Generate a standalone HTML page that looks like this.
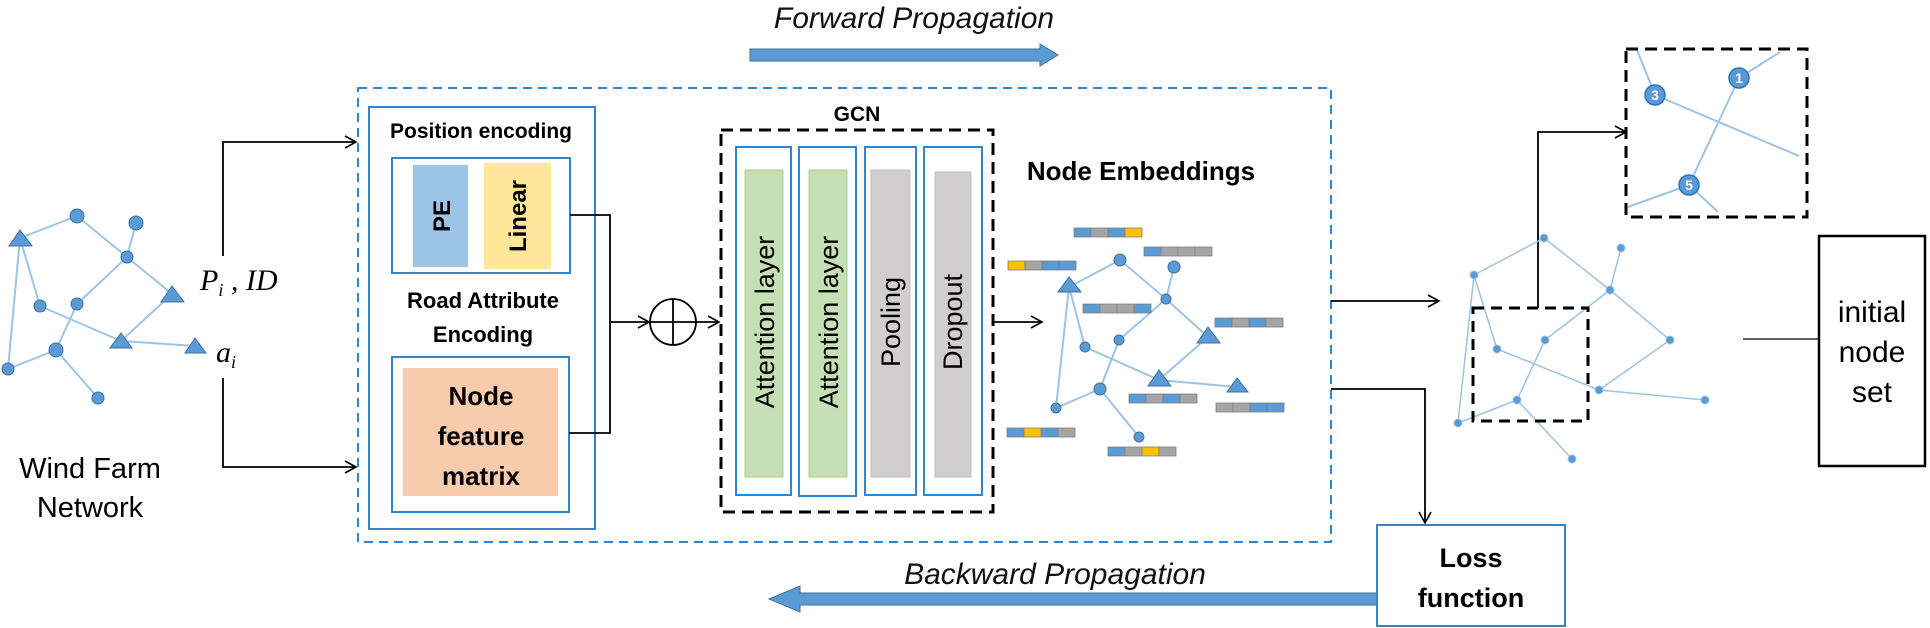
<!DOCTYPE html>
<html><head><meta charset="utf-8"><style>
html,body{margin:0;padding:0;background:#fff;}
svg{display:block;}
</style></head><body>
<svg width="1930" height="628" viewBox="0 0 1930 628" xmlns="http://www.w3.org/2000/svg" font-family="Liberation Sans, sans-serif">
<defs>
<marker id="ah" markerWidth="14" markerHeight="14" refX="12" refY="7" orient="auto" markerUnits="userSpaceOnUse">
<path d="M1,1 L12,7 L1,13" fill="none" stroke="#000" stroke-width="1.6"/>
</marker>
</defs>

<!-- Forward / backward -->
<text x="914" y="28" font-size="30" font-style="italic" text-anchor="middle" fill="#111">Forward Propagation</text>
<path d="M750,49 L1040,49 L1040,44 L1058,55 L1040,66 L1040,61 L750,61 Z" fill="#5b9bd5" stroke="#41719c" stroke-width="1"/>
<text x="1055" y="584" font-size="30" font-style="italic" text-anchor="middle" fill="#111">Backward Propagation</text>
<path d="M1377,593 L800,593 L800,586 L769,599 L800,612 L800,605 L1377,605 Z" fill="#5b9bd5" stroke="#41719c" stroke-width="1"/>

<!-- blue dashed box -->
<rect x="358" y="88" width="973" height="454" fill="none" stroke="#2e86d1" stroke-width="2" stroke-dasharray="9,6"/>

<!-- left network -->
<g stroke="#9dc3e6" stroke-width="2">
<line x1="20" y1="238" x2="77" y2="216"/><line x1="77" y1="216" x2="127" y2="257"/><line x1="136" y1="223" x2="127" y2="257"/>
<line x1="127" y1="257" x2="172" y2="294"/><line x1="127" y1="257" x2="77" y2="304"/><line x1="20" y1="238" x2="40" y2="306"/>
<line x1="20" y1="238" x2="8" y2="369"/><line x1="40" y1="306" x2="121" y2="341"/><line x1="172" y1="294" x2="121" y2="341"/>
<line x1="121" y1="341" x2="195" y2="346"/><line x1="77" y1="304" x2="56" y2="350"/><line x1="56" y1="350" x2="8" y2="369"/>
<line x1="56" y1="350" x2="98" y2="398"/>
</g>
<g fill="#5b9bd5" stroke="#41719c" stroke-width="1">
<circle cx="77" cy="216" r="7"/><circle cx="136" cy="223" r="7"/><circle cx="127" cy="257" r="6"/><circle cx="77" cy="304" r="6"/>
<circle cx="40" cy="306" r="6"/><circle cx="56" cy="350" r="7"/><circle cx="8" cy="369" r="6"/><circle cx="98" cy="398" r="6"/>
<polygon points="20,230 9,246 32,246"/><polygon points="172,286 161,302 184,302"/><polygon points="121,333 110,348 132,348"/><polygon points="195,338 185,353 206,353"/>
</g>
<text x="200" y="290" font-size="30" font-style="italic" font-family="Liberation Serif, serif">P<tspan font-size="18" dy="6">i</tspan><tspan dy="-6"> , ID</tspan></text>
<text x="216" y="362" font-size="30" font-style="italic" font-family="Liberation Serif, serif">a<tspan font-size="18" dy="6">i</tspan></text>
<text x="90" y="478" font-size="29" text-anchor="middle">Wind Farm</text>
<text x="90" y="517" font-size="29" text-anchor="middle">Network</text>
<g stroke="#000" stroke-width="1.8" fill="none">
<polyline points="223,256 223,142 356,142" marker-end="url(#ah)"/>
<polyline points="223,378 223,467 356,467" marker-end="url(#ah)"/>
</g>

<!-- encoding block -->
<rect x="369" y="107" width="226" height="422" fill="none" stroke="#2e86d1" stroke-width="2"/>
<text x="481" y="138" font-size="21" font-weight="bold" text-anchor="middle">Position encoding</text>
<rect x="392" y="158" width="178" height="115" fill="none" stroke="#2e86d1" stroke-width="2"/>
<rect x="413" y="165" width="55" height="102" fill="#9dc3e6"/>
<rect x="484" y="163" width="67" height="106" fill="#ffe699"/>
<text transform="translate(450,216) rotate(-90)" font-size="24" font-weight="bold" text-anchor="middle">PE</text>
<text transform="translate(526,216) rotate(-90)" font-size="24" font-weight="bold" text-anchor="middle">Linear</text>
<text x="483" y="308" font-size="22" font-weight="bold" text-anchor="middle">Road Attribute</text>
<text x="483" y="342" font-size="22" font-weight="bold" text-anchor="middle">Encoding</text>
<rect x="392" y="357" width="177" height="155" fill="none" stroke="#2e86d1" stroke-width="2"/>
<rect x="403" y="368" width="155" height="128" fill="#f8cbad"/>
<text x="481" y="405" font-size="26" font-weight="bold" text-anchor="middle">Node</text>
<text x="481" y="445" font-size="26" font-weight="bold" text-anchor="middle">feature</text>
<text x="481" y="485" font-size="26" font-weight="bold" text-anchor="middle">matrix</text>

<g stroke="#000" stroke-width="1.8" fill="none">
<polyline points="570,215 610,215 610,433 569,433"/>
<line x1="610" y1="322" x2="649" y2="322" marker-end="url(#ah)"/>
<circle cx="673" cy="322" r="23"/>
<line x1="650" y1="322" x2="696" y2="322"/><line x1="673" y1="299" x2="673" y2="345"/>
<line x1="696" y1="322" x2="719" y2="322" marker-end="url(#ah)"/>
</g>

<!-- GCN -->
<text x="857" y="121" font-size="21" font-weight="bold" text-anchor="middle">GCN</text>
<rect x="721" y="130" width="272" height="382" fill="none" stroke="#000" stroke-width="3" stroke-dasharray="12,7"/>
<g fill="none" stroke="#2e86d1" stroke-width="2">
<rect x="736" y="147" width="55" height="348"/><rect x="799" y="147" width="57" height="349"/>
<rect x="865" y="147" width="51" height="348"/><rect x="924" y="147" width="58" height="348"/>
</g>
<rect x="745" y="170" width="38" height="307" fill="#c5e0b4" stroke="#a9d18e"/>
<rect x="809" y="170" width="38" height="307" fill="#c5e0b4" stroke="#a9d18e"/>
<rect x="871" y="170" width="39" height="307" fill="#d0cece" stroke="#bfbfbf"/>
<rect x="935" y="172" width="36" height="305" fill="#d0cece" stroke="#bfbfbf"/>
<g font-size="27" text-anchor="middle">
<text transform="translate(774,322) rotate(-90)">Attention layer</text>
<text transform="translate(838,322) rotate(-90)">Attention layer</text>
<text transform="translate(900,322) rotate(-90)">Pooling</text>
<text transform="translate(962,322) rotate(-90)">Dropout</text>
</g>
<line x1="993" y1="322" x2="1042" y2="322" stroke="#000" stroke-width="1.8" marker-end="url(#ah)"/>

<!-- Node embeddings -->
<text x="1141" y="180" font-size="26" font-weight="bold" text-anchor="middle">Node Embeddings</text>
<g stroke="#9dc3e6" stroke-width="2">
<line x1="1069" y1="287" x2="1120" y2="260"/><line x1="1120" y1="260" x2="1166" y2="299"/><line x1="1174" y1="267" x2="1166" y2="299"/>
<line x1="1166" y1="299" x2="1208" y2="337"/><line x1="1166" y1="299" x2="1119" y2="340"/><line x1="1069" y1="287" x2="1085" y2="347"/>
<line x1="1069" y1="287" x2="1056" y2="408"/><line x1="1085" y1="347" x2="1159" y2="380"/><line x1="1208" y1="337" x2="1159" y2="380"/>
<line x1="1159" y1="380" x2="1237" y2="387"/><line x1="1119" y1="340" x2="1100" y2="389"/><line x1="1100" y1="389" x2="1056" y2="408"/>
<line x1="1100" y1="389" x2="1139" y2="437"/>
</g>
<g fill="#5b9bd5" stroke="#41719c" stroke-width="1">
<circle cx="1120" cy="260" r="6"/><circle cx="1174" cy="267" r="6"/><circle cx="1166" cy="299" r="5"/><circle cx="1085" cy="347" r="5"/>
<circle cx="1119" cy="340" r="5"/><circle cx="1100" cy="389" r="6"/><circle cx="1056" cy="408" r="5"/><circle cx="1139" cy="437" r="5"/>
<polygon points="1069,277 1058,292 1081,292"/><polygon points="1208,327 1197,343 1220,343"/><polygon points="1159,370 1148,386 1171,386"/><polygon points="1237,378 1227,392 1248,392"/>
</g>
<g stroke="#7f7f7f" stroke-width="0.8">
<!-- bars: B blue, G gray, Y yellow -->
<g transform="translate(1074,228)"><rect width="17" height="9" fill="#5b9bd5"/><rect x="17" width="17" height="9" fill="#a5a5a5"/><rect x="34" width="17" height="9" fill="#5b9bd5"/><rect x="51" width="17" height="9" fill="#ffc000"/></g>
<g transform="translate(1144,247)"><rect width="17" height="9" fill="#5b9bd5"/><rect x="17" width="17" height="9" fill="#a5a5a5"/><rect x="34" width="17" height="9" fill="#a5a5a5"/><rect x="51" width="17" height="9" fill="#a5a5a5"/></g>
<g transform="translate(1008,261)"><rect width="17" height="9" fill="#ffc000"/><rect x="17" width="17" height="9" fill="#a5a5a5"/><rect x="34" width="17" height="9" fill="#5b9bd5"/><rect x="51" width="17" height="9" fill="#5b9bd5"/></g>
<g transform="translate(1083,304)"><rect width="17" height="9" fill="#5b9bd5"/><rect x="17" width="17" height="9" fill="#a5a5a5"/><rect x="34" width="17" height="9" fill="#a5a5a5"/><rect x="51" width="17" height="9" fill="#5b9bd5"/></g>
<g transform="translate(1215,318)"><rect width="17" height="9" fill="#5b9bd5"/><rect x="17" width="17" height="9" fill="#a5a5a5"/><rect x="34" width="17" height="9" fill="#5b9bd5"/><rect x="51" width="17" height="9" fill="#a5a5a5"/></g>
<g transform="translate(1129,394)"><rect width="17" height="9" fill="#5b9bd5"/><rect x="17" width="17" height="9" fill="#a5a5a5"/><rect x="34" width="17" height="9" fill="#5b9bd5"/><rect x="51" width="17" height="9" fill="#a5a5a5"/></g>
<g transform="translate(1216,403)"><rect width="17" height="9" fill="#a5a5a5"/><rect x="17" width="17" height="9" fill="#a5a5a5"/><rect x="34" width="17" height="9" fill="#5b9bd5"/><rect x="51" width="17" height="9" fill="#5b9bd5"/></g>
<g transform="translate(1007,428)"><rect width="17" height="9" fill="#5b9bd5"/><rect x="17" width="17" height="9" fill="#ffc000"/><rect x="34" width="17" height="9" fill="#5b9bd5"/><rect x="51" width="17" height="9" fill="#a5a5a5"/></g>
<g transform="translate(1108,447)"><rect width="17" height="9" fill="#5b9bd5"/><rect x="17" width="17" height="9" fill="#a5a5a5"/><rect x="34" width="17" height="9" fill="#ffc000"/><rect x="51" width="17" height="9" fill="#a5a5a5"/></g>
</g>

<!-- right connectors -->
<g stroke="#000" stroke-width="1.8" fill="none">
<line x1="1331" y1="301" x2="1439" y2="301" marker-end="url(#ah)"/>
<polyline points="1331,389 1425,389 1425,523" marker-end="url(#ah)"/>
<polyline points="1538,308 1538,132 1626,132" marker-end="url(#ah)"/>
<line x1="1743" y1="339" x2="1819" y2="339" stroke-width="1.3"/>
</g>

<!-- result graph -->
<g stroke="#9dc3e6" stroke-width="1.5">
<line x1="1544" y1="238" x2="1474" y2="275"/><line x1="1544" y1="238" x2="1610" y2="290"/><line x1="1621" y1="248" x2="1610" y2="290"/>
<line x1="1610" y1="290" x2="1545" y2="340"/><line x1="1610" y1="290" x2="1670" y2="340"/><line x1="1474" y1="275" x2="1497" y2="349"/>
<line x1="1474" y1="275" x2="1458" y2="423"/><line x1="1497" y1="349" x2="1599" y2="390"/><line x1="1545" y1="340" x2="1517" y2="400"/>
<line x1="1670" y1="340" x2="1599" y2="390"/><line x1="1599" y1="390" x2="1705" y2="400"/><line x1="1517" y1="400" x2="1458" y2="423"/>
<line x1="1517" y1="400" x2="1572" y2="459"/>
</g>
<g fill="#5b9bd5" stroke="#9dc3e6" stroke-width="1" font-size="6" text-anchor="middle">
<circle cx="1544" cy="238" r="4"/><circle cx="1621" cy="248" r="4"/><circle cx="1474" cy="275" r="4"/><circle cx="1610" cy="290" r="4"/>
<circle cx="1545" cy="340" r="4"/><circle cx="1497" cy="349" r="4"/><circle cx="1670" cy="340" r="4"/><circle cx="1599" cy="390" r="4"/>
<circle cx="1705" cy="400" r="4"/><circle cx="1517" cy="400" r="4"/><circle cx="1458" cy="423" r="4"/><circle cx="1572" cy="459" r="4"/>
</g>
<rect x="1473" y="308" width="115" height="113" fill="none" stroke="#000" stroke-width="3" stroke-dasharray="11,7"/>

<!-- zoom box -->
<g stroke="#9dc3e6" stroke-width="2">
<line x1="1655" y1="95" x2="1637" y2="50"/><line x1="1655" y1="95" x2="1799" y2="156"/><line x1="1739" y1="78" x2="1780" y2="52"/>
<line x1="1739" y1="78" x2="1689" y2="185"/><line x1="1689" y1="185" x2="1628" y2="207"/><line x1="1689" y1="185" x2="1718" y2="212"/>
</g>
<g fill="#5b9bd5" stroke="#2e75b6" stroke-width="1.5">
<circle cx="1655" cy="95" r="10"/><circle cx="1739" cy="78" r="10"/><circle cx="1689" cy="185" r="10"/>
</g>
<g fill="#fff" font-size="14" font-weight="bold" text-anchor="middle">
<text x="1655" y="100">3</text><text x="1739" y="83">1</text><text x="1689" y="190">5</text>
</g>
<rect x="1626" y="49" width="181" height="168" fill="none" stroke="#000" stroke-width="3" stroke-dasharray="12,7"/>

<!-- initial node set -->
<rect x="1819" y="236" width="106" height="230" fill="#fff" stroke="#000" stroke-width="2.5"/>
<text x="1872" y="322" font-size="30" text-anchor="middle">initial</text>
<text x="1872" y="362" font-size="30" text-anchor="middle">node</text>
<text x="1872" y="402" font-size="30" text-anchor="middle">set</text>

<!-- loss -->
<rect x="1377" y="525" width="188" height="101" fill="#fff" stroke="#2e86d1" stroke-width="2"/>
<text x="1471" y="567" font-size="27" font-weight="bold" text-anchor="middle">Loss</text>
<text x="1471" y="607" font-size="27" font-weight="bold" text-anchor="middle">function</text>
</svg>
</body></html>
